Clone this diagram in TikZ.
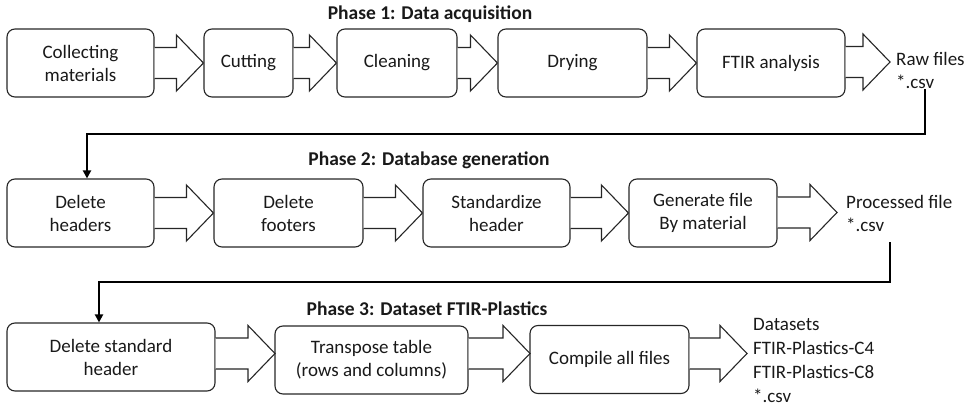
\documentclass[tikz,border=0pt]{standalone}
\usepackage{fontspec}
\setmainfont{Carlito}
\usetikzlibrary{arrows.meta,calc}
\begin{document}
\begin{tikzpicture}[x=1pt,y=-1pt,
  box/.style={draw=black!85,line width=1.1pt,rounded corners=8pt,align=center,minimum height=68pt,inner sep=0pt,
    font=\fontsize{19}{23}\selectfont,text=black!90},
  fat/.style={draw=black!85,line width=1.1pt,fill=white,line join=miter},
  outtext/.style={anchor=west,align=left,inner sep=0pt,font=\fontsize{19}{23}\selectfont,text=black!90},
  title/.style={font=\bfseries\fontsize{19.5}{22}\selectfont,text=black!90,inner sep=0pt},
  link/.style={line width=2.6pt,-{Triangle[length=8pt,width=8pt]}}]
\useasboundingbox (0,0) rectangle (977,406);
\newcommand{\fatarrow}[2]{%
  \draw[fat] let \p1=(#1), \p2=(#2) in
    (\x1,\y2-15.5) -- (\x2-27,\y2-15.5) -- (\x2-27,\y2-28) -- (\x2,\y2) --
    (\x2-27,\y2+28) -- (\x2-27,\y2+15.5) -- (\x1,\y2+15.5);}
% Phase 1
\node[title] (t1) at (430,14) {Phase 1: Data acquisition};
\node[box,minimum width=147pt] (a1) at (80.5,63) {Collecting\\materials};
\node[box,minimum width=89pt] (a2) at (248.5,63) {Cutting};
\node[box,minimum width=120pt] (a3) at (397,63) {Cleaning};
\node[box,minimum width=149pt] (a4) at (572.5,63) {Drying};
\node[box,minimum width=148pt] (a5) at (771,63) {FTIR analysis};
\coordinate (a6) at (890,62);
\node[outtext] (raw) at (896,70) {Raw files\\*.csv};
\fatarrow{a1.east}{a2.west}
\fatarrow{a2.east}{a3.west}
\fatarrow{a3.east}{a4.west}
\fatarrow{a4.east}{a5.west}
\fatarrow{a5.east}{a6}
% Phase 2
\node[title] (t2) at (429,160) {Phase 2: Database generation};
\node[box,minimum width=147pt] (b1) at (80.5,213) {Delete\\headers};
\node[box,minimum width=149pt] (b2) at (288.5,213) {Delete\\footers};
\node[box,minimum width=147pt] (b3) at (496.5,213) {Standardize\\header};
\node[box,minimum width=148pt] (b4) at (703,213) {Generate file\\By material};
\coordinate (b5) at (837,212.5);
\node[outtext] (proc) at (846,213) {Processed file\\*.csv};
\fatarrow{b1.east}{b2.west}
\fatarrow{b2.east}{b3.west}
\fatarrow{b3.east}{b4.west}
\fatarrow{b4.east}{b5}
% Phase 3
\node[title] (t3) at (427,309) {Phase 3: Dataset FTIR-Plastics};
\node[box,minimum width=208pt] (c1) at (111,357) {Delete standard\\header};
\node[box,minimum width=193pt] (c2) at (371.5,360) {Transpose table\\(rows and columns)};
\node[box,minimum width=159pt] (c3) at (609.5,359.5) {Compile all files};
\coordinate (c4) at (747,353.5);
\coordinate (c2w) at (275,353.5);
\coordinate (c3w) at (530,353.5);
\node[outtext,font=\fontsize{19}{24}\selectfont] (ds) at (753,360) {Datasets\\FTIR-Plastics-C4\\FTIR-Plastics-C8\\*.csv};
\fatarrow{c1.east}{c2w}
\fatarrow{c2.east}{c3w}
\fatarrow{c3.east}{c4}
% connectors
\coordinate (r1) at (925,89);
\coordinate (k1) at (87,134);
\coordinate (r2) at (890,242);
\coordinate (k2) at (99,282);
\draw[link] (r1) |- (k1) -- (k1 |- b1.north);
\draw[link] (r2) |- (k2) -- (k2 |- c1.north);
\end{tikzpicture}
\end{document}
